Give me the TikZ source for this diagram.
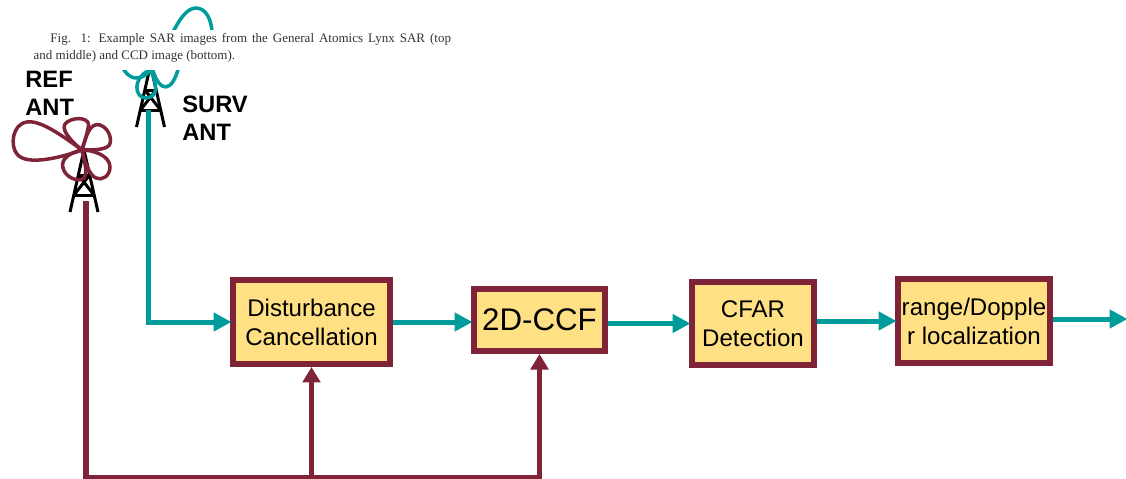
\documentclass[tikz,border=0pt]{standalone}
\usepackage{fontspec}
\setmainfont{Liberation Serif}
\setsansfont{Liberation Sans}
\usepackage{tikz}
\usetikzlibrary{arrows.meta,positioning,calc}
\definecolor{survteal}{HTML}{009B9B}
\definecolor{refmaroon}{HTML}{7F2338}
\definecolor{boxfill}{HTML}{FFE084}
\newcommand{\tower}[1]{\begin{scope}[shift={(#1)}]
  \draw[mast] (-14,0) -- (0,-62) -- (14,0);
  \draw[mast] (-10,-17) -- (10,-17) (-5.6,-37) -- (5.6,-37);
  \draw[mast] (-10,-17) -- (5.6,-37) (10,-17) -- (-5.6,-37);
\end{scope}}

\begin{document}
\begin{tikzpicture}[x=0.02cm, y=-0.02cm,
  blockbox/.style={draw=refmaroon, fill=boxfill, line width=0.12cm, align=center,
              inner sep=0pt, font=\sffamily\fontsize{13.7}{16.5}\selectfont},
  sig/.style={-{Triangle[length=0.36cm, width=0.36cm]}, line width=0.1cm, draw=survteal,
              shorten >=-0.03cm},
  refline/.style={line width=0.11cm, draw=refmaroon},
  refarr/.style={refline, -{Triangle[length=0.31cm, width=0.35cm]}},
  mast/.style={draw=black, line width=0.06cm},
  lobe/.style={line width=0.07cm, line cap=round},
  antlabel/.style={align=left, inner sep=0pt, anchor=north west,
              font=\sffamily\bfseries\fontsize{13.5}{15.6}\selectfont}]
\useasboundingbox (0,0) rectangle (1126,478);

\tower{84,212}
\tower{150.5,127}

% antenna patterns
\draw[lobe, draw=refmaroon] (82,150) .. controls (60,134) and (40,120) .. (27,122)
  .. controls (12,124) and (10,146) .. (17,154)
  .. controls (26,166) and (60,158) .. (82,150);
\draw[lobe, draw=refmaroon] (82,150) .. controls (72,142) and (58,128) .. (67,122)
  .. controls (76,116) and (92,118) .. (88,128) .. controls (87,135) and (84,143) .. (82,150);
\draw[lobe, draw=refmaroon] (82,150) .. controls (86,136) and (90,122) .. (100,125)
  .. controls (110,128) and (114,144) .. (107,147) .. controls (102,150) and (90,150) .. (82,150);
\draw[lobe, draw=refmaroon] (82,150) .. controls (94,150) and (110,156) .. (110,167)
  .. controls (110,176) and (102,181) .. (96,178) .. controls (89,175) and (84,160) .. (82,150);
\draw[lobe, draw=refmaroon] (82,150) .. controls (72,152) and (60,158) .. (63,168)
  .. controls (65,177) and (78,183) .. (84,178) .. controls (88,172) and (84,160) .. (82,150);
\draw[lobe, draw=survteal] (172,34) .. controls (178,22) and (186,8) .. (196,8)
  .. controls (206,8) and (212,20) .. (212,34);
\draw[lobe, draw=survteal] (122,66) .. controls (128,80) and (140,82) .. (150,71);
\draw[lobe, draw=survteal] (148,71) .. controls (133,78) and (134,98) .. (146,98)
  .. controls (160,97) and (156,82) .. (151,71);
\draw[lobe, draw=survteal] (153,71) .. controls (160,92) and (172,94) .. (179,66);

\fill[white] (28,30) rectangle (457,70);
\node[inner xsep=3pt, inner ysep=0pt, anchor=north west, align=left,
  text=black!80, font=\fontsize{7.4}{9.6}\selectfont] (caption) at (28,33)
  {\hspace*{9.6pt}\makebox[228pt][s]{Fig. 1: Example SAR images from the General Atomics Lynx SAR (top}\\
  and middle) and CCD image (bottom).};

\node[antlabel] (refant) at (25,71) {REF\\ANT};
\node[antlabel] (survant) at (182,96) {SURV\\ANT};

\node[blockbox, minimum width=3.14cm, minimum height=1.68cm] (dist) at (311.5,322)
  {Disturbance\\Cancellation};
\node[blockbox, minimum width=2.62cm, minimum height=1.24cm,
  font=\sffamily\fontsize{17.8}{20}\selectfont] (ccf) at (539.5,320) {2D-CCF};
\node[blockbox, minimum width=2.44cm, minimum height=1.66cm] (cfar) at (753,323.5)
  {CFAR\\Detection};
\node[blockbox, minimum width=3.04cm, minimum height=1.68cm] (rng) at (974,321)
  {range/Dopple\\r localization};

\coordinate (survfeed) at (148,110);
\coordinate (reffeed) at (86,201);
\coordinate (busstart) at (86,478);
\coordinate (outend) at (1126,319);

\draw[sig] (survfeed) |- (dist.west);
\draw[sig] (dist.east) -- (dist.east -| ccf.west);
\draw[sig] (ccf.east |- cfar.west) -- (cfar.west);
\draw[sig] (cfar.east |- rng.west) -- (rng.west);
\draw[sig] (rng.east |- outend) -- (outend);
\draw[refarr] (reffeed) -- (busstart) -| (ccf.south);
\draw[refarr] (dist.south |- busstart) -- (dist.south);
\end{tikzpicture}
\end{document}
